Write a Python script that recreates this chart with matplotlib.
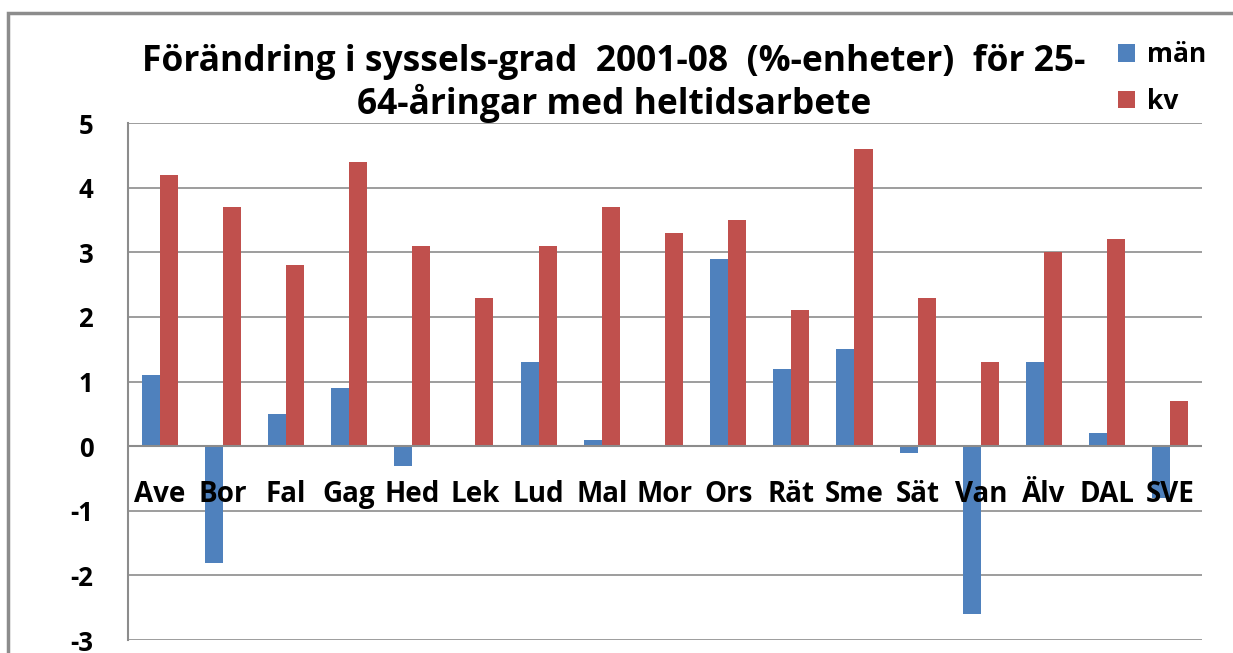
import numpy as np
import matplotlib.pyplot as plt
from matplotlib.patches import Rectangle

categories = ["Ave", "Bor", "Fal", "Gag", "Hed", "Lek", "Lud", "Mal", "Mor",
              "Ors", "Rät", "Sme", "Sät", "Van", "Älv", "DAL", "SVE"]
man = [1.1, -1.8, 0.5, 0.9, -0.3, 0.0, 1.3, 0.1, 0.0,
       2.9, 1.2, 1.5, -0.1, -2.6, 1.3, 0.2, -0.8]
kv = [4.2, 3.7, 2.8, 4.4, 3.1, 2.3, 3.1, 3.7, 3.3,
      3.5, 2.1, 4.6, 2.3, 1.3, 3.0, 3.2, 0.7]
yticks = [-3, -2, -1, 0, 1, 2, 3, 4, 5]

plt.rcParams['font.family'] = ['Open Sans', 'DejaVu Sans']

fig = plt.figure(figsize=(12.33, 6.53), dpi=100)
ax = fig.add_axes([0.1038, 0.0198, 0.8710, 0.7918])

# outer chart border
fig.patches.append(Rectangle((0.0065, -0.05), 1.05, 1.03, transform=fig.transFigure,
                             fill=False, edgecolor='#8c8c8c', linewidth=2.5))

x = np.arange(len(categories))
w = 1 / 3.5
ax.bar(x - w / 2, man, w, color='#4F81BD', label='män', zorder=3)
ax.bar(x + w / 2, kv, w, color='#C0504D', label='kv', zorder=3)

ax.set_xlim(-0.5, len(categories) - 0.5)
ax.set_ylim(-3, 5)
ax.set_yticks(yticks)
ax.set_yticklabels([str(t) for t in yticks], fontsize=18.5, fontweight='bold')
ax.tick_params(axis='y', length=0, pad=25)
ax.set_xticks([])
ax.grid(axis='y', color='#8c8c8c', linewidth=1.2, zorder=0)
for s in ['top', 'right', 'bottom']:
    ax.spines[s].set_visible(False)
ax.spines['left'].set_color('#8c8c8c')
ax.spines['left'].set_linewidth(1.5)
ax.axhline(0, color='#8c8c8c', linewidth=1.5, zorder=4)

for xi, c in zip(x, categories):
    ax.text(xi, -0.74, c, ha='center', va='center', fontsize=20,
            fontweight='bold', zorder=5)

fig.text(0.498, 0.872, "Förändring i syssels-grad  2001-08  (%-enheter)  för 25-\n"
         "64-åringar med heltidsarbete", ha='center', va='center',
         fontsize=25.5, fontweight='bold', linespacing=1.1)

leg = fig.legend(loc='upper left', bbox_to_anchor=(0.907, 0.937), frameon=False,
                 prop={'size': 19, 'weight': 'bold'}, handlelength=0.65,
                 handleheight=0.65, handletextpad=0.45, labelspacing=0.75,
                 borderpad=0, borderaxespad=0)

fig.savefig('out.png', dpi=100)
